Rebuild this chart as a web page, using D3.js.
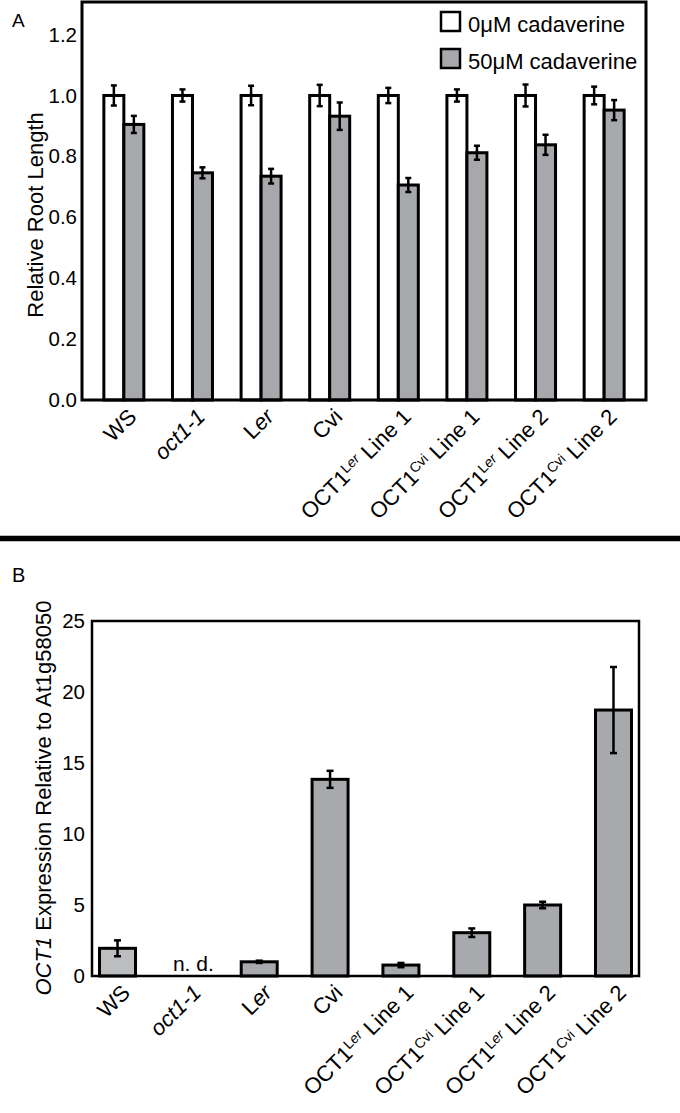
<!DOCTYPE html>
<html>
<head>
<meta charset="utf-8">
<script src="https://cdn.jsdelivr.net/npm/d3@7"></script>
<style>
  html, body { margin: 0; padding: 0; background: #fff; }
  svg { display: block; font-family: "Liberation Sans", Arial, Helvetica, sans-serif; }
</style>
</head>
<body>
<svg id="chart" width="680" height="1113"></svg>
<script>
// ---------------- data ----------------
const categories = ["WS", "oct1-1", "Ler", "Cvi", "OCT1Ler Line 1", "OCT1Cvi Line 1", "OCT1Ler Line 2", "OCT1Cvi Line 2"];
const seriesNames = ["0\u03bcM cadaverine", "50\u03bcM cadaverine"];
const rootLen0 = [1.0, 1.0, 1.0, 1.0, 1.0, 1.0, 1.0, 1.0];
const rootLen0Err = [0.033, 0.02, 0.032, 0.035, 0.025, 0.02, 0.036, 0.029];
const rootLen50 = [0.905, 0.746, 0.735, 0.932, 0.706, 0.812, 0.838, 0.952];
const rootLen50Err = [0.028, 0.018, 0.024, 0.045, 0.023, 0.023, 0.033, 0.033];
const expression = [1.95, null, 1.0, 13.85, 0.77, 3.05, 5.0, 18.73];
const expressionErr = [0.56, null, 0.08, 0.6, 0.15, 0.3, 0.23, 3.03];
const ticksA = [0.0, 0.2, 0.4, 0.6, 0.8, 1.0, 1.2];
const ticksB = [0, 5, 10, 15, 20, 25];
const notDetectedLabel = "n. d.";

// ---------------- helpers ----------------
const svg = d3.select("#chart");

// build rich label segments (italic / superscript) from category names
function labelSegments(name) {
  if (name === "oct1-1") return [{t: "oct1-1", it: true}];
  if (name === "Ler") return [{t: "L"}, {t: "er", it: true}];
  const m = name.match(/^OCT1(Ler|Cvi) (.*)$/);
  if (m) {
    const sup = m[1] === "Ler" ? [{t: "L", sup: true}, {t: "er", sup: true, it: true}] : [{t: "Cvi", sup: true}];
    return [{t: "OCT1"}].concat(sup).concat([{t: " " + m[2]}]);
  }
  return [{t: name}];
}

function drawXLabels(g, x, yBase) {
  categories.forEach(c => {
    const cx = x(c) + 14;
    const txt = g.append("text")
      .attr("transform", `translate(${cx},${yBase}) rotate(-45)`)
      .attr("text-anchor", "end")
      .attr("font-size", 22)
      .attr("fill", "#000");
    let raised = false;
    labelSegments(c).forEach(s => {
      const ts = txt.append("tspan").text(s.t);
      if (s.it) ts.attr("font-style", "italic");
      if (s.sup) {
        ts.attr("font-size", 14);
        if (!raised) { ts.attr("dy", -7); raised = true; }
      } else if (raised) {
        ts.attr("dy", 7); raised = false;
      }
    });
  });
}

function errorBar(g, cx, yTop, yBot, cap) {
  g.append("line").attr("x1", cx).attr("x2", cx).attr("y1", yTop).attr("y2", yBot)
    .attr("stroke", "#000").attr("stroke-width", 2.5);
  [yTop, yBot].forEach(yy => g.append("line")
    .attr("x1", cx - cap).attr("x2", cx + cap).attr("y1", yy).attr("y2", yy)
    .attr("stroke", "#000").attr("stroke-width", 2.5));
}

// ---------------- Panel A ----------------
const A = {left: 82, right: 646, top: 2, bottom: 400};
const xA = d3.scalePoint().domain(categories).range([A.left, A.right]).padding(0.61);
const yA = d3.scaleLinear().domain([0, 1.307]).range([A.bottom, A.top]);
const gA = svg.append("g");
const barWA = 20;

// bars
gA.selectAll("rect.w").data(categories).join("rect")
  .attr("x", d => xA(d) - barWA).attr("width", barWA)
  .attr("y", (d, i) => yA(rootLen0[i])).attr("height", (d, i) => yA(0) - yA(rootLen0[i]))
  .attr("fill", "#fff").attr("stroke", "#000").attr("stroke-width", 3);
gA.selectAll("rect.g").data(categories).join("rect")
  .attr("x", d => xA(d)).attr("width", barWA)
  .attr("y", (d, i) => yA(rootLen50[i])).attr("height", (d, i) => yA(0) - yA(rootLen50[i]))
  .attr("fill", "#a7a8ab").attr("stroke", "#000").attr("stroke-width", 3);
categories.forEach((c, i) => {
  errorBar(gA, xA(c) - barWA / 2, yA(rootLen0[i] + rootLen0Err[i]), yA(rootLen0[i] - rootLen0Err[i]), 3);
  errorBar(gA, xA(c) + barWA / 2, yA(rootLen50[i] + rootLen50Err[i]), yA(rootLen50[i] - rootLen50Err[i]), 3);
});

// frame
gA.append("rect").attr("x", A.left).attr("y", A.top).attr("width", A.right - A.left).attr("height", A.bottom - A.top)
  .attr("fill", "none").attr("stroke", "#000").attr("stroke-width", 3);

// y axis labels
const axA = gA.append("g").attr("transform", `translate(${A.left},0)`)
  .call(d3.axisLeft(yA).tickValues(ticksA).tickFormat(d3.format(".1f")).tickSize(0).tickPadding(5));
axA.select(".domain").remove();
axA.selectAll("text").attr("font-size", 20.5).attr("font-family", "Liberation Sans, Arial, sans-serif").attr("fill", "#000");

gA.append("text").attr("transform", "translate(43,215) rotate(-90)")
  .attr("text-anchor", "middle").attr("font-size", 22).text("Relative Root Length");

gA.append("text").attr("x", 12).attr("y", 27).attr("font-size", 19).text("A");

drawXLabels(gA, xA, A.bottom + 18);

// legend
const legend = gA.append("g");
seriesNames.forEach((s, i) => {
  legend.append("rect").attr("x", 441).attr("y", 12 + i * 37).attr("width", 19).attr("height", 19)
    .attr("fill", i === 0 ? "#fff" : "#a7a8ab").attr("stroke", "#000").attr("stroke-width", 2.5);
  legend.append("text").attr("x", 468).attr("y", 32 + i * 37).attr("font-size", 22).text(s);
});

// divider
svg.append("line").attr("x1", 0).attr("x2", 680).attr("y1", 538.5).attr("y2", 538.5)
  .attr("stroke", "#000").attr("stroke-width", 5.5);

// ---------------- Panel B ----------------
const B = {left: 92, right: 639, top: 621, bottom: 976};
const xB = d3.scalePoint().domain(categories).range([B.left, B.right]).padding(0.36);
const yB = d3.scaleLinear().domain([0, 25]).range([B.bottom, B.top]);
const gB = svg.append("g");
const barWB = 36;

const valid = categories.map((c, i) => ({c, i, v: expression[i], e: expressionErr[i]})).filter(d => d.v != null);
gB.selectAll("rect.b").data(valid).join("rect")
  .attr("x", d => xB(d.c) - barWB / 2).attr("width", barWB)
  .attr("y", d => yB(d.v)).attr("height", d => yB(0) - yB(d.v))
  .attr("fill", d => d.i === 0 ? "#bcbdbf" : "#a8a9ac").attr("stroke", "#000").attr("stroke-width", 3);
valid.forEach(d => errorBar(gB, xB(d.c), yB(d.v + d.e), yB(d.v - d.e), 3.5));

categories.forEach((c, i) => {
  if (expression[i] == null) {
    gB.append("text").attr("x", xB(c) + 5).attr("y", B.bottom - 5).attr("text-anchor", "middle")
      .attr("font-size", 21).text(notDetectedLabel);
  }
});

gB.append("rect").attr("x", B.left).attr("y", B.top).attr("width", B.right - B.left).attr("height", B.bottom - B.top)
  .attr("fill", "none").attr("stroke", "#000").attr("stroke-width", 2.5);

const axB = gB.append("g").attr("transform", `translate(${B.left},0)`)
  .call(d3.axisLeft(yB).tickValues(ticksB).tickFormat(d3.format("d")).tickSize(0).tickPadding(7));
axB.select(".domain").remove();
axB.selectAll("text").attr("font-size", 20.5).attr("font-family", "Liberation Sans, Arial, sans-serif").attr("fill", "#000");

const yl = gB.append("text").attr("transform", "translate(51,798) rotate(-90)")
  .attr("text-anchor", "middle").attr("font-size", 22);
yl.append("tspan").attr("font-style", "italic").text("OCT1");
yl.append("tspan").text(" Expression Relative to At1g58050");

gB.append("text").attr("x", 12).attr("y", 582).attr("font-size", 20).text("B");

drawXLabels(gB, xB, B.bottom + 18);
</script>
</body>
</html>
